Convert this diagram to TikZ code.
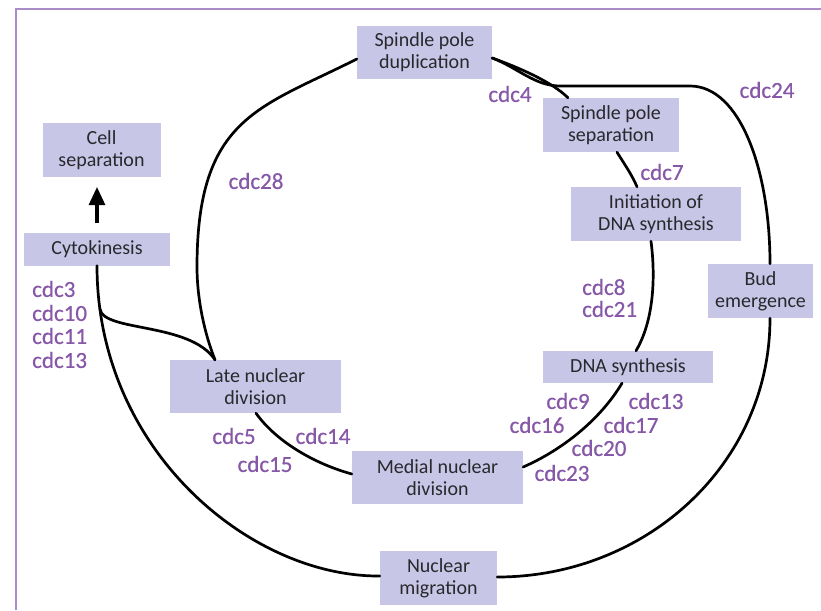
\documentclass[tikz,border=0pt]{standalone}
\usepackage{fontspec}
\setmainfont{Carlito}
\newfontfamily\labfont{Carlito}[FakeBold=0.6]
\usetikzlibrary{arrows.meta,calc}
\definecolor{boxfill}{RGB}{200,198,230}
\definecolor{boxtext}{RGB}{40,40,45}
\definecolor{labcol}{RGB}{135,88,168}
\definecolor{framecol}{RGB}{170,140,200}
\begin{document}
\begin{tikzpicture}[x=1pt,y=-1pt,
  box/.style={fill=boxfill,text=boxtext,align=center,inner sep=0pt,font=\fontsize{20}{22}\selectfont},
  lab/.style={text=labcol,inner sep=0pt,font=\labfont\fontsize{23}{24}\selectfont},
  conn/.style={line width=2.7pt,line cap=round}]
\useasboundingbox (0,0) rectangle (821,610);
% frame
\draw[framecol,line width=2pt] (15.5,610) -- (15.5,9.5) -- (821,9.5);
% boxes
\node[box,minimum width=135pt,minimum height=53pt] (dup) at (424.5,52.5) {Spindle pole\\duplication};
\node[box,minimum width=136pt,minimum height=54pt] (sep) at (611,125) {Spindle pole\\separation};
\node[box,minimum width=170pt,minimum height=54pt] (init) at (656,214) {Initiation of\\DNA synthesis};
\node[box,minimum width=105pt,minimum height=54pt] (bud) at (760.5,291) {Bud\\emergence};
\node[box,minimum width=170pt,minimum height=32pt] (dna) at (628,367) {DNA synthesis};
\node[box,minimum width=171pt,minimum height=53pt] (med) at (437.5,477.5) {Medial nuclear\\division};
\node[box,minimum width=171pt,minimum height=53pt] (late) at (255.5,386.5) {Late nuclear\\division};
\node[box,minimum width=117pt,minimum height=54pt] (mig) at (438.5,578) {Nuclear\\migration};
\node[box,minimum width=118pt,minimum height=54pt] (cellsep) at (101.5,150) {Cell\\separation};
\node[box,minimum width=146pt,minimum height=33pt] (cyto) at (97,249) {Cytokinesis};
% connectors
\draw[conn] ($(dup.west)+(0,6.5)$) .. controls (260,108) and (197,117) .. (197,267)
  .. controls (197,300) and (205,335) .. ($(late.north)+(-40.5,0)$);
\draw[conn] ($(dup.east)+(0,5.5)$) .. controls (520,68) and (552,82) .. ($(sep.north)+(-43,0)$);
\draw[conn] ($(dup.east)+(0,5.5)$) .. controls (518,68) and (535,86) .. (560,86) -- (690,86)
  .. controls (740,86) and (770,170) .. ($(bud.north)+(9.5,0)$);
\draw[conn] ($(sep.south)+(6,0)$) .. controls (625,165) and (632,175) .. ($(init.north)+(-19,0)$);
\draw[conn] ($(init.south)+(-5,0)$) .. controls (656,280) and (653,322) .. ($(dna.north)+(8,0)$);
\draw[conn] ($(dna.south)+(-6,0)$) .. controls (600,420) and (562,450) .. ($(med.east)+(0,-10.5)$);
\draw[conn] ($(late.south)+(0.5,0)$) .. controls (275,440) and (312,463) .. ($(med.west)+(0,-3.5)$);
\draw[conn] (cyto.south) .. controls (97,450) and (250,577) .. ($(mig.west)+(0,-2)$);
\coordinate (J) at (100,309);
\draw[conn] (J) .. controls (103,332) and (190,322) .. ($(late.north)+(-40.5,0)$);
\draw[conn] ($(mig.east)+(0,-1)$) .. controls (645,577) and (770,465) .. ($(bud.south)+(9.5,0)$);
% arrow Cytokinesis -> Cell separation
\coordinate (tip) at ($(cellsep.south)+(-4.5,10)$);
\draw[line width=3.5pt] ($(cyto.north)+(0,-9)$) -- ($(tip)+(0,14)$);
\fill (tip) -- ++(-8.5,18) -- ++(17,0) -- cycle;
% labels
\node[lab] (l4) at (510,94) {cdc4};
\node[lab] (l24) at (767,90) {cdc24};
\node[lab] (l7) at (662,172) {cdc7};
\node[lab] (l28) at (256,181) {cdc28};
\node[lab,anchor=west] (l8) at (582,287) {cdc8};
\node[lab,anchor=west] (l21) at (582,309) {cdc21};
\node[lab,anchor=west] (l3) at (32,289) {cdc3};
\node[lab,anchor=west] (l10) at (32,313) {cdc10};
\node[lab,anchor=west] (l11) at (32,336) {cdc11};
\node[lab,anchor=west] (l13a) at (32,360) {cdc13};
\node[lab] (l5) at (234,436) {cdc5};
\node[lab] (l14) at (323,436) {cdc14};
\node[lab] (l15) at (265,464) {cdc15};
\node[lab] (l9) at (568,401) {cdc9};
\node[lab] (l13b) at (656,401) {cdc13};
\node[lab] (l16) at (537,425) {cdc16};
\node[lab] (l17) at (631,425) {cdc17};
\node[lab] (l20) at (599,448) {cdc20};
\node[lab] (l23) at (562,473) {cdc23};
\end{tikzpicture}
\end{document}
